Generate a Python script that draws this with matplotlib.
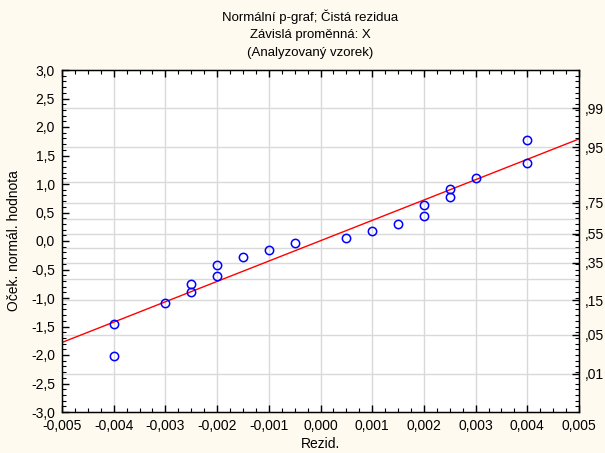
from statistics import NormalDist

import matplotlib.pyplot as plt
from matplotlib.ticker import FixedLocator, MultipleLocator, FuncFormatter

plt.rcParams['font.family'] = ['Liberation Sans', 'DejaVu Sans']
plt.rcParams['font.size'] = 10

# raw residuals and their expected normal values
resid = [-0.004, -0.004, -0.003, -0.0025, -0.0025, -0.002, -0.002, -0.0015, -0.001, -0.0005,
         0.0005, 0.001, 0.0015, 0.002, 0.002, 0.0025, 0.0025, 0.003, 0.004, 0.004]
expected = [-2.01, -1.46, -1.08, -0.89, -0.76, -0.61, -0.42, -0.28, -0.15, -0.04,
            0.05, 0.17, 0.30, 0.44, 0.63, 0.78, 0.91, 1.10, 1.36, 1.78]

# fitted line end points
line_x = [-0.005, 0.005]
line_y = [-1.78, 1.79]

# probability axis
prob_labels = [0.01, 0.05, 0.15, 0.35, 0.55, 0.75, 0.95, 0.99]
prob_grid = [0.01, 0.05, 0.15, 0.25, 0.35, 0.45, 0.55, 0.65, 0.75, 0.85, 0.95, 0.99]

bg = '#fffaf0'
fig = plt.figure(figsize=(6.05, 4.53), dpi=100, facecolor=bg)
ax = fig.add_axes([62 / 605, 41 / 453, 517 / 605, 342 / 453])
ax.set_facecolor('white')

nd = NormalDist()
for p in prob_grid:
    ax.axhline(nd.inv_cdf(p), color='#d9d9d9', lw=1, zorder=0)
for xv in [-0.004, -0.003, -0.002, -0.001, 0, 0.001, 0.002, 0.003, 0.004]:
    ax.axvline(xv, color='#d9d9d9', lw=1, zorder=0)

ax.plot(line_x, line_y, color='red', lw=1, zorder=2)
ax.plot(resid, expected, 'o', ms=6, mfc='none', mec='blue', mew=1.1, zorder=3)

ax.set_xlim(-0.005, 0.005)
ax.set_ylim(-3, 3)
ax.xaxis.set_major_locator(MultipleLocator(0.001))
ax.xaxis.set_minor_locator(MultipleLocator(0.00025))
ax.yaxis.set_major_locator(MultipleLocator(0.5))
ax.yaxis.set_minor_locator(MultipleLocator(0.1))
ax.xaxis.set_major_formatter(FuncFormatter(lambda v, p: f'{v:.3f}'.replace('.', ',').replace('-0,000', '0,000')))
ax.yaxis.set_major_formatter(FuncFormatter(lambda v, p: f'{v:.1f}'.replace('.', ',').replace('-0,0', '0,0')))
ax.tick_params(which='both', direction='in', top=True, right=False, colors='black', labelsize=10)
ax.tick_params(axis='x', pad=5)
ax.tick_params(axis='y', pad=5)
ax.tick_params(which='major', length=5, width=1)
ax.tick_params(which='minor', length=3, width=0.8)
for s in ax.spines.values():
    s.set_color('black')
    s.set_linewidth(1)

ax2 = ax.twinx()
ax2.set_ylim(-3, 3)
ax2.yaxis.set_major_locator(FixedLocator([nd.inv_cdf(p) for p in prob_labels]))
ax2.yaxis.set_minor_locator(MultipleLocator(0.1))
ax2.set_yticklabels([(',%02d' % round(p * 100)) for p in prob_labels])
ax2.tick_params(which='both', direction='in', labelsize=10, pad=4)
ax2.tick_params(which='major', length=5, width=1)
ax2.tick_params(which='minor', length=3, width=0.8)

ax.set_xlabel('Rezid.', fontsize=10, labelpad=3)
ax.set_ylabel('Oček. normál. hodnota', fontsize=10, labelpad=7)

fig.text(310 / 605, 1 - 17 / 453, 'Normální p-graf; Čistá rezidua', ha='center', va='center', fontsize=9.5)
fig.text(310 / 605, 1 - 35 / 453, 'Závislá proměnná: X', ha='center', va='center', fontsize=9.5)
fig.text(310 / 605, 1 - 53 / 453, '(Analyzovaný vzorek)', ha='center', va='center', fontsize=9.5)

fig.savefig('out.png', dpi=100, facecolor=bg)
